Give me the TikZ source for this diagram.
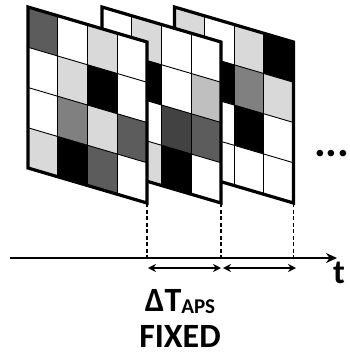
\documentclass[tikz,border=0pt]{standalone}
\usepackage{fontspec}
\setmainfont{Carlito}
\usetikzlibrary{arrows.meta}
\definecolor{W}{gray}{1}
\definecolor{L}{gray}{0.85}
\definecolor{S}{gray}{0.75}
\definecolor{M}{gray}{0.5}
\definecolor{D}{gray}{0.36}
\definecolor{X}{gray}{0.26}
\definecolor{K}{gray}{0}
\tikzset{
  gridline/.style={line width=0.9pt},
  frameborder/.style={line width=3.2pt, line join=miter},
  guide/.style={line width=1.4pt, dash pattern=on 4pt off 2.5pt},
  axis/.style={line width=2pt, -{Stealth[length=11pt,width=10pt]}},
  period/.style={line width=1.5pt, {Stealth[length=8pt,width=8pt]}-{Stealth[length=8pt,width=8pt]}},
  bigtext/.style={font=\bfseries\fontsize{34}{34}\selectfont, inner sep=0pt, anchor=base}
}
\newcommand\drawframe[3]{%
  \begin{scope}[shift={(#1,0)}]
    \foreach \colname [count=\i from 0] in {#3} {
      \pgfmathtruncatemacro\rr{\i/4}
      \pgfmathtruncatemacro\cc{mod(\i,4)}
      \fill[\colname] ({\cc*29.75},{7+\cc*8.75+\rr*40.25}) -- ({(\cc+1)*29.75},{7+(\cc+1)*8.75+\rr*40.25}) -- ({(\cc+1)*29.75},{7+(\cc+1)*8.75+(\rr+1)*40.25}) -- ({\cc*29.75},{7+\cc*8.75+(\rr+1)*40.25}) -- cycle;
    }
    \foreach \k in {1,2,3} {
      \draw[gridline] ({\k*29.75},{7+\k*8.75}) -- ({\k*29.75},{168+\k*8.75});
      \draw[gridline] (0,{7+\k*40.25}) -- (119,{42+\k*40.25});
    }
    \draw[frameborder] (0,7) -- (119,42) -- (119,203) -- (0,168) -- cycle;
    \coordinate (#2br) at (119,203);
  \end{scope}
}
\begin{document}
\begin{tikzpicture}[x=1pt,y=-1pt]
\useasboundingbox (0,0) rectangle (350,357);
\drawframe{174.5}{back}{L,W,L,K, W,K,M,L, W,W,K,W, W,W,W,W}
\drawframe{102}{mid}{W,L,W,W, W,K,W,S, W,W,X,D, W,L,K,W}
\drawframe{28}{front}{D,W,L,W, W,L,K,W, W,M,L,D, L,K,D,W}
\coordinate (a0) at (10,258);
\coordinate (a1) at (337,258);
\draw[axis] (a0) -- (a1);
\foreach \f in {front,mid,back} {
  \draw[guide] (\f br) -- (\f br |- a0);
}
\coordinate (p0) at (148,268);
\coordinate (p1) at (221,268);
\coordinate (p2) at (223,268);
\coordinate (p3) at (296,268);
\draw[period] (p0) -- (p1);
\draw[period] (p2) -- (p3);
\node[bigtext] (tlabel) at (339,283) {t};
\node[bigtext] (dt) at (180,311) {ΔT{\fontsize{21}{21}\selectfont\raisebox{-2pt}{APS}}};
\node[bigtext] (fixed) at (180,347) {FIXED};
\node[font=\bfseries\fontsize{44}{44}\selectfont, inner sep=0pt, anchor=base east] (dots) at (349.5,156) {...};
\end{tikzpicture}
\end{document}
